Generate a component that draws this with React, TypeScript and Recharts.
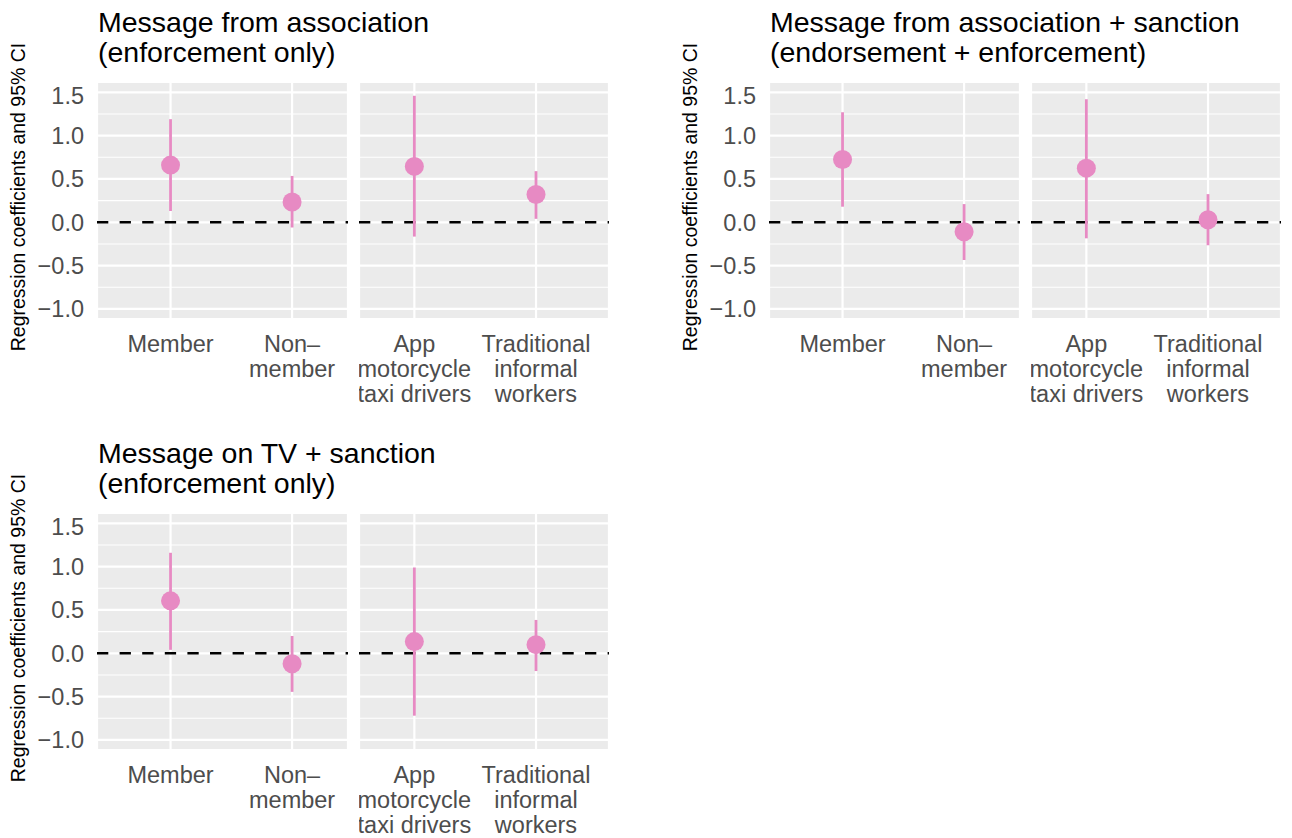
import React from 'react';
import { ScatterChart, Scatter, XAxis, YAxis, CartesianGrid, ReferenceLine, ErrorBar } from 'recharts';

// x categories of the two facets in every panel
const MEMBERSHIP = ['Member', 'Non–\nmember'];
const WORKER_TYPE = ['App\nmotorcycle\ntaxi drivers', 'Traditional\ninformal\nworkers'];

// order: Member, Non-member, App drivers, Traditional workers
const assocEst = [0.66, 0.235, 0.645, 0.32];
const assocLow = [0.13, -0.06, -0.165, 0.04];
const assocHigh = [1.19, 0.535, 1.46, 0.59];

const sanctionEst = [0.725, -0.11, 0.625, 0.03];
const sanctionLow = [0.18, -0.435, -0.185, -0.265];
const sanctionHigh = [1.27, 0.21, 1.42, 0.325];

const tvEst = [0.605, -0.12, 0.135, 0.1];
const tvLow = [0.04, -0.445, -0.72, -0.205];
const tvHigh = [1.16, 0.2, 0.99, 0.385];

const PANEL_TITLES = [
  ['Message from association', '(enforcement only)'],
  ['Message from association + sanction', '(endorsement + enforcement)'],
  ['Message on TV + sanction', '(enforcement only)'],
];

const Y_TICKS = [-1, -0.5, 0, 0.5, 1, 1.5];
const Y_MINOR = [-0.75, -0.25, 0.25, 0.75, 1.25];
const Y_LABEL = 'Regression coefficients and 95% CI';

const PINK = '#E78AC3';
const FONT = '"Liberation Sans", Arial, Helvetica, sans-serif';
const Y_DOMAIN: [number, number] = [-1.116, 1.619];
const PLOT_H = 237;
const AXIS_W = 97;
const X_AXIS_H = 100;

const formatY = (v: number) => (v < 0 ? '\u2212' : '') + Math.abs(v).toFixed(1);

const MultiLineTick = (props: any) => {
  const { x, y, payload, labels } = props;
  const lines: string[] = labels[payload.value - 1].split('\n');
  return (
    <text x={x} y={y} textAnchor="middle" fill="#4D4D4D" fontSize={23.5}>
      {lines.map((line, i) => (
        <tspan key={i} x={x} dy={i === 0 ? 31 : 25}>
          {line}
        </tspan>
      ))}
    </text>
  );
};

const Dot = (props: any) => <circle cx={props.cx} cy={props.cy} r={9.5} fill={PINK} />;

interface FacetProps {
  left: number;
  top: number;
  width: number;
  labels: string[];
  est: number[];
  low: number[];
  high: number[];
  showY: boolean;
  domain: [number, number];
}

const Facet: React.FC<FacetProps> = ({ left, top, width, labels, est, low, high, showY, domain }) => {
  const rows = est.map((v, i) => ({ x: i + 1, y: v, err: [v - low[i], high[i] - v] }));
  const axisW = showY ? AXIS_W : 0;
  return (
    <div style={{ position: 'absolute', left: left - axisW, top }}>
      <ScatterChart width={width + axisW} height={PLOT_H + X_AXIS_H} margin={{ top: 0, right: 0, bottom: 0, left: 0 }}>
        <CartesianGrid fill="#EBEBEB" fillOpacity={1} stroke="#FFFFFF" strokeWidth={2.2} />
        {Y_MINOR.map((v) => (
          <ReferenceLine key={v} y={v} stroke="#FFFFFF" strokeWidth={1.1} />
        ))}
        <XAxis
          type="number"
          dataKey="x"
          domain={domain}
          ticks={[1, 2]}
          interval={0}
          allowDataOverflow
          axisLine={false}
          tickLine={false}
          tickSize={0}
          height={X_AXIS_H}
          tick={<MultiLineTick labels={labels} />}
        />
        <YAxis
          type="number"
          dataKey="y"
          domain={Y_DOMAIN}
          ticks={Y_TICKS}
          allowDataOverflow
          hide={!showY}
          width={axisW}
          axisLine={false}
          tickLine={false}
          tickSize={0}
          tickMargin={13}
          tickFormatter={formatY}
          tick={{ fill: '#4D4D4D', fontSize: 23.5 }}
        />
        <ReferenceLine y={0} stroke="#000000" strokeWidth={2.6} strokeDasharray="11.3 11.3" />
        <Scatter data={rows} fill={PINK} shape={Dot} isAnimationActive={false}>
          <ErrorBar dataKey="err" direction="y" width={0} stroke={PINK} strokeWidth={2.8} />
        </Scatter>
      </ScatterChart>
    </div>
  );
};

interface PanelProps {
  dx: number;
  dy: number;
  title: string[];
  est: number[];
  low: number[];
  high: number[];
}

const Panel: React.FC<PanelProps> = ({ dx, dy, title, est, low, high }) => {
  const top = 82 + dy;
  return (
    <>
      <svg style={{ position: 'absolute', left: dx, top: dy, overflow: 'visible' }} width={620} height={420}>
        <text x={98} y={31.5} fontSize={28.5} fill="#000000">
          {title[0]}
        </text>
        <text x={98} y={61.5} fontSize={28.5} fill="#000000">
          {title[1]}
        </text>
        <text transform="translate(25,197) rotate(-90)" textAnchor="middle" fontSize={19.5} fill="#000000">
          {Y_LABEL}
        </text>
      </svg>
      <Facet
        left={97 + dx}
        top={top}
        width={251}
        labels={MEMBERSHIP}
        est={est.slice(0, 2)}
        low={low.slice(0, 2)}
        high={high.slice(0, 2)}
        showY
        domain={[0.395, 2.46]}
      />
      <Facet
        left={359 + dx}
        top={top}
        width={250}
        labels={WORKER_TYPE}
        est={est.slice(2)}
        low={low.slice(2)}
        high={high.slice(2)}
        showY={false}
        domain={[0.545, 2.6]}
      />
    </>
  );
};

export default function App() {
  return (
    <div
      style={{
        position: 'absolute',
        left: 0,
        top: 0,
        width: 1292,
        height: 838,
        background: '#FFFFFF',
        fontFamily: FONT,
      }}
    >
      <Panel dx={0} dy={0} title={PANEL_TITLES[0]} est={assocEst} low={assocLow} high={assocHigh} />
      <Panel dx={672.3} dy={0} title={PANEL_TITLES[1]} est={sanctionEst} low={sanctionLow} high={sanctionHigh} />
      <Panel dx={0} dy={431.3} title={PANEL_TITLES[2]} est={tvEst} low={tvLow} high={tvHigh} />
    </div>
  );
}
